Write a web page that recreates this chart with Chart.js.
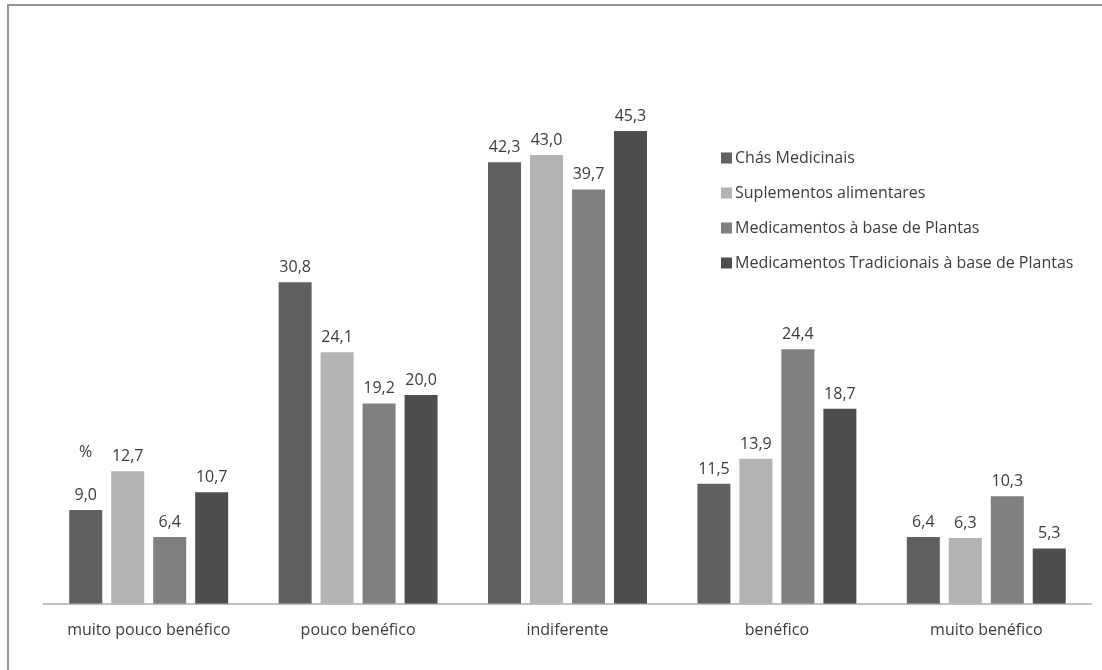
<!DOCTYPE html>
<html>
<head>
<meta charset="utf-8">
<script src="https://cdn.jsdelivr.net/npm/chart.js@4/dist/chart.umd.min.js"></script>
<style>
  html, body { margin: 0; padding: 0; background: #ffffff; overflow: hidden; }
  #frame {
    position: absolute; left: 7px; top: 4px; width: 1200px; height: 800px;
    border-left: 2px solid #939393; border-top: 2px solid #939393;
  }
  #chart { position: absolute; left: 0; top: 0; }
</style>
</head>
<body>
<div id="frame"></div>
<canvas id="chart" width="1102" height="670"></canvas>
<script>
// Categories (x axis)
const categories = ['muito pouco benéfico', 'pouco benéfico', 'indiferente', 'benéfico', 'muito benéfico'];

// Series values (%)
const chasMedicinais = [9.0, 30.8, 42.3, 11.5, 6.4];
const suplementosAlimentares = [12.7, 24.1, 43.0, 13.9, 6.3];
const medicamentosPlantas = [6.4, 19.2, 39.7, 24.4, 10.3];
const medicamentosTradicionais = [10.7, 20.0, 45.3, 18.7, 5.3];

// Series names
const seriesNames = [
  'Chás Medicinais',
  'Suplementos alimentares',
  'Medicamentos à base de Plantas',
  'Medicamentos Tradicionais à base de Plantas'
];

const unitLabel = '%';

const FONT = '"Open Sans", sans-serif';
const FONT_SIZE = 16;
const TEXT_COLOR = '#3c3c3c';
const colors = ['#606060', '#b3b3b3', '#808080', '#4e4e4e'];

const seriesValues = [chasMedicinais, suplementosAlimentares, medicamentosPlantas, medicamentosTradicionais];

// Value labels above each bar, plus the unit marker above the first group
const valueLabels = {
  id: 'valueLabels',
  afterDatasetsDraw(chart) {
    const ctx = chart.ctx;
    ctx.save();
    ctx.font = FONT_SIZE + 'px ' + FONT;
    ctx.fillStyle = TEXT_COLOR;
    ctx.textAlign = 'center';
    ctx.textBaseline = 'alphabetic';
    chart.data.datasets.forEach((ds, di) => {
      const meta = chart.getDatasetMeta(di);
      meta.data.forEach((bar, i) => {
        const v = ds.data[i];
        ctx.fillText(v.toFixed(1).replace('.', ','), bar.x, bar.y - 10);
      });
    });
    const first = chart.getDatasetMeta(0).data[0];
    ctx.fillText(unitLabel, first.x, first.y - 53);
    ctx.restore();
  }
};

// Legend drawn inside the plot area on the right
const insideLegend = {
  id: 'insideLegend',
  afterDraw(chart) {
    const ctx = chart.ctx;
    const x0 = 721, y0 = 158, step = 35, box = 11;
    ctx.save();
    ctx.font = FONT_SIZE + 'px ' + FONT;
    ctx.textAlign = 'left';
    ctx.textBaseline = 'middle';
    chart.data.datasets.forEach((ds, i) => {
      const y = y0 + i * step;
      ctx.fillStyle = ds.backgroundColor;
      ctx.fillRect(x0, y - box / 2, box, box);
      ctx.fillStyle = TEXT_COLOR;
      ctx.fillText(ds.label, x0 + box + 3, y);
    });
    ctx.restore();
  }
};

new Chart(document.getElementById('chart'), {
  type: 'bar',
  data: {
    labels: categories,
    datasets: seriesValues.map((vals, i) => ({
      label: seriesNames[i],
      data: vals,
      backgroundColor: colors[i],
      borderWidth: 0,
      categoryPercentage: 0.802,
      barPercentage: 0.786
    }))
  },
  options: {
    responsive: false,
    animation: false,
    devicePixelRatio: 1,
    layout: { padding: { left: 44, right: 11, top: 82, bottom: 13 } },
    plugins: { legend: { display: false }, tooltip: { enabled: false } },
    scales: {
      x: {
        grid: { display: false, drawTicks: false },
        border: { display: true, color: '#c0c0c0', width: 2 },
        ticks: { color: TEXT_COLOR, font: { family: FONT, size: FONT_SIZE }, padding: 17, maxRotation: 0 }
      },
      y: { display: false, min: 0, max: 50 }
    }
  },
  plugins: [valueLabels, insideLegend]
});
</script>
</body>
</html>
